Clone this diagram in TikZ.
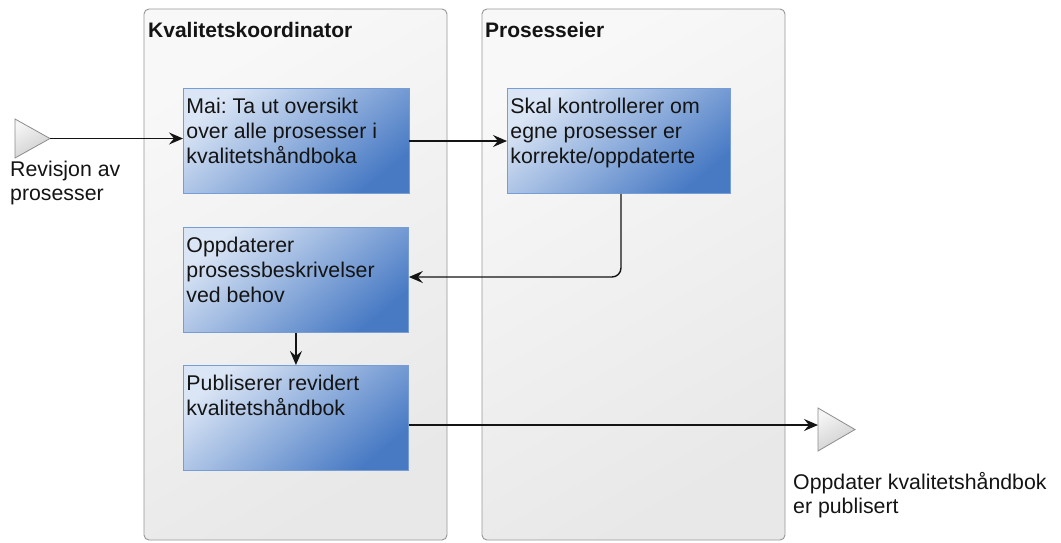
\documentclass[tikz,border=0pt]{standalone}
\usepackage{fontspec}
\setmainfont{Liberation Sans}
\usetikzlibrary{arrows.meta,calc}
\frenchspacing
\definecolor{laneborder}{RGB}{150,150,150}
\definecolor{lanelight}{RGB}{248,248,248}
\definecolor{lanedark}{RGB}{232,232,232}
\definecolor{taskborder}{RGB}{118,158,212}
\definecolor{tasklight}{RGB}{218,229,245}
\definecolor{taskdark}{RGB}{72,122,196}
\definecolor{evborder}{RGB}{140,140,140}
\definecolor{evlight}{RGB}{245,245,245}
\definecolor{evdark}{RGB}{205,205,205}
\definecolor{ink}{RGB}{20,20,20}
\tikzset{
  lane/.style={draw=laneborder, line width=0.9pt, rounded corners=5pt,
    top color=lanelight, bottom color=lanedark, shading angle=30},
  lanetitle/.style={font=\fontsize{21}{25}\selectfont\bfseries, text=ink,
    anchor=base west, inner sep=0pt},
  task/.style={draw=taskborder, line width=0.9pt, anchor=north west,
    top color=tasklight, bottom color=taskdark, shading angle=40,
    inner sep=0pt, font=\fontsize{21.3}{25}\selectfont, text=ink},
  event/.style={draw=evborder, line width=0.8pt, top color=evlight,
    bottom color=evdark, shading angle=30},
  evlabel/.style={font=\fontsize{21.3}{24}\selectfont, text=ink, align=left,
    anchor=north west, inner sep=0pt},
  flow/.style={line width=1.4pt, ink,
    -{Stealth[length=14pt,width=12pt,inset=5pt]}},
}
% task box of fixed size, text set from the top-left corner
\newcommand{\taskbody}[3]{\parbox[c][#2pt][t]{#1pt}{\hspace*{3pt}\parbox[t]{\dimexpr#1pt-6pt\relax}{\rule{0pt}{25pt}#3}}}
\begin{document}
\begin{tikzpicture}[x=1pt,y=-1pt]
  \useasboundingbox (0,0) rectangle (1061,542);

  % swimlanes
  \draw[lane] (144,9) rectangle (447,540);
  \draw[lane] (482,9) rectangle (785,540);
  \node[lanetitle] (lane1title) at (148,37) {Kvalitetskoordinator};
  \node[lanetitle] (lane2title) at (485,37) {Prosesseier};

  % activities
  \node[task] (t1) at (183,88) {\taskbody{226}{105}{Mai: Ta ut oversikt\\over alle prosesser i\\kvalitetshåndboka}};
  \node[task] (t2) at (507,88) {\taskbody{223}{105}{Skal kontrollerer om\\egne prosesser er\\korrekte/oppdaterte}};
  \node[task] (t3) at (183,227) {\taskbody{225}{105}{Oppdaterer\\prosessbeskrivelser\\ved behov}};
  \node[task] (t4) at (183,365) {\taskbody{225}{105}{Publiserer revidert\\kvalitetshåndbok}};

  % start and end events
  \draw[event] (15,119) -- (15,158) -- (50,138.5) -- cycle;
  \coordinate (startev) at (50,138.5);
  \node[evlabel] (startlabel) at (10,161) {Revisjon av\\prosesser};

  \draw[event] (818,408) -- (818,451) -- (855,429.5) -- cycle;
  \coordinate (endev) at (818,425);
  \node[evlabel] (endlabel) at (793,472) {Oppdater kvalitetshåndbok\\er publisert};

  % sequence flows
  \draw[flow] (startev) -- (startev -| t1.west);
  \coordinate (c12) at (409,141);
  \draw[flow] (c12) -- (c12 -| t2.west);
  \coordinate (c23) at (621,277);
  \draw[flow, rounded corners=9pt] (c23 |- t2.south) -- (c23) -- (c23 -| t3.east);
  \draw[flow] (t3.south) -- (t4.north);
  \draw[flow] (endev -| t4.east) -- (endev);
\end{tikzpicture}
\end{document}
